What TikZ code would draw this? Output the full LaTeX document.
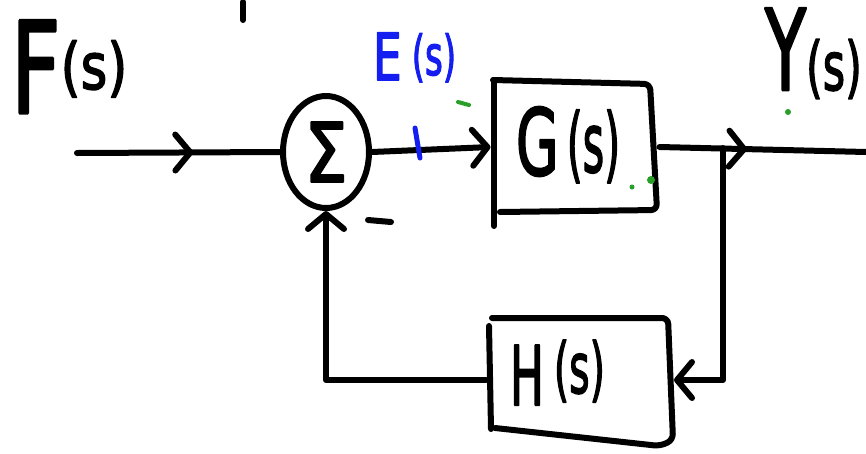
\documentclass[tikz,border=0pt]{standalone}
\usepackage{fontspec}
\setmainfont{DejaVu Sans}
\newfontfamily\hand[FakeBold=2.5]{DejaVu Sans}
\usetikzlibrary{shapes.geometric,arrows.meta,decorations.markings}
\definecolor{penblue}{RGB}{20,30,240}
\definecolor{pengreen}{RGB}{40,160,40}
\begin{document}
\begin{tikzpicture}[x=1pt,y=-1pt,line width=6pt,line cap=round,line join=round,
  barb/.style={-{Straight Barb[length=15pt,width=36pt,round]}},
  midbarb/.style={postaction={decorate},decoration={markings,mark=at position #1 with {\arrow{Straight Barb[length=15pt,width=36pt,round]}}}},
  lbl/.style={inner sep=0pt,anchor=base west,font=\hand},
  boxnode/.style={inner sep=0pt,draw=none}]
\useasboundingbox (0,0) rectangle (866,453);
% blocks
\node[draw,ellipse,minimum width=86pt,minimum height=112pt,inner sep=0pt,font=\hand] (sum) at (326,152)
  {\scalebox{.83}[1]{\fontsize{82}{82}\selectfont Σ}};
\node[boxnode,minimum width=163pt,minimum height=134pt] (G) at (575,147) {};
\node[boxnode,minimum width=182pt,minimum height=124pt] (H) at (580,380) {};
\draw[rounded corners=6pt] (493,80) -- (650,84) -- (657,210) -- (500,212);
\draw (494,80) -- (494,226);
\draw[rounded corners=6pt] (492,318) -- (668,318) -- (673,440) -- (660,446) -- (495,428);
\draw (489,326) -- (491,429);
% texts
\node[lbl] (Gt) at (513,175) {\scalebox{.6}[1]{\fontsize{92}{92}\selectfont G}\hspace{8pt}\raisebox{3pt}{\scalebox{.5}[1]{\fontsize{82}{82}\selectfont(s)}}};
\node[lbl] (Ht) at (507,405) {\scalebox{.55}[1]{\fontsize{82}{82}\selectfont H}\hspace{10pt}\raisebox{12pt}{\scalebox{.56}[1]{\fontsize{70}{70}\selectfont(s)}}};
\node[lbl] (F) at (8,113) {\scalebox{.68}[1]{\fontsize{127}{127}\selectfont F}\raisebox{24pt}{\scalebox{.8}[1]{\fontsize{64}{64}\selectfont(s)}}};
\node[lbl] (Y) at (762,90) {\scalebox{.6}[1]{\fontsize{112}{112}\selectfont Y}\scalebox{.64}[1]{\fontsize{67}{67}\selectfont(s)}};
\node[lbl,text=penblue] (E) at (370,80) {\scalebox{.7}[1]{\fontsize{65}{65}\selectfont E}\hspace{10pt}\raisebox{5pt}{\scalebox{.62}[1]{\fontsize{55}{55}\selectfont(s)}}};
% connectors
\coordinate (fin) at (77,153);
\coordinate (fout) at (866,152);
\coordinate (bp) at (723,148);
\draw[midbarb=0.573] (fin) -- (sum.west);
\draw[barb] (sum.east) -- (G.west);
\draw[midbarb=0.424] (G.east) -- (fout);
\draw[barb] (bp) |- (H.east);
\draw[barb] (H.west) -| (sum.south);
% marks
\draw (243,2) -- (243,20);
\draw (368,220) -- (391,222);
\draw[penblue,line width=5pt] (415,128) -- (420,158);
\draw[pengreen,line width=4pt] (458,102) -- (469,105);
\fill[pengreen] (632,187) circle (2.5pt);
\fill[pengreen] (651,180) circle (4pt);
\fill[pengreen] (788,112) circle (3pt);
\end{tikzpicture}
\end{document}
